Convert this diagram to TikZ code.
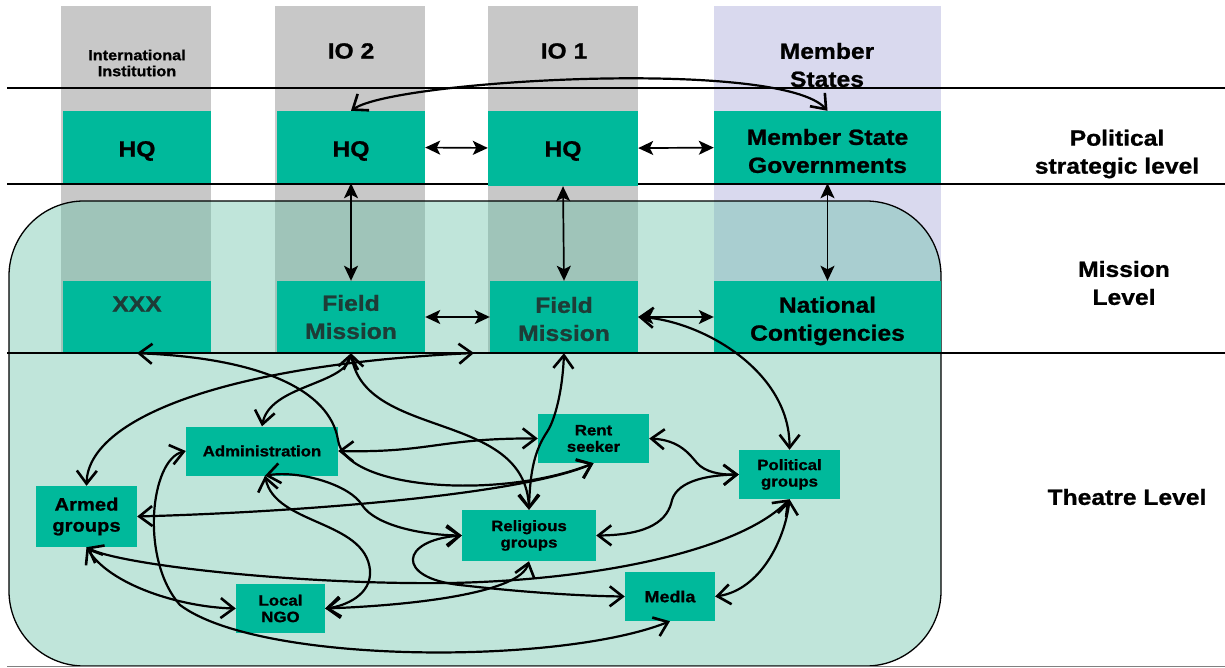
\documentclass[tikz,border=0pt]{standalone}
\usepackage{fontspec}
\setmainfont{Liberation Sans}[FakeStretch=1.12, BoldFeatures={FakeBold=1}]
\usetikzlibrary{arrows.meta}
\definecolor{grn}{RGB}{0,185,155}
\definecolor{colgray}{RGB}{200,200,200}
\definecolor{lav}{RGB}{217,217,238}
\definecolor{mint}{RGB}{98,190,163}
\definecolor{dtxt}{RGB}{30,60,55}
\tikzset{
  bb/.tip={Straight Barb[length=13pt,width=20pt,line width=2.6pt]},
  ff/.tip={Stealth[length=15pt,width=14pt,inset=3.5pt]},
}
\begin{document}
\begin{tikzpicture}[x=1pt,y=-1pt,
  box/.style={fill=grn, inner sep=0pt},
  btxt/.style={align=center, inner sep=0pt, font=\bfseries\fontsize{22}{28}\selectfont},
  sbox/.style={fill=grn, inner sep=0pt, align=center, font=\bfseries\fontsize{15}{16.5}\selectfont},
  lvl/.style={align=center, inner sep=0pt, font=\bfseries\fontsize{22}{28}\selectfont},
  link/.style={line width=2.2pt, bb-bb},
  flink/.style={line width=1.7pt, ff-ff},
  hline/.style={line width=2pt},
]
\useasboundingbox (0,0) rectangle (1225,668);
% columns
\fill[colgray] (61,6) rectangle (211,353);
\fill[colgray] (275,6) rectangle (425,353);
\fill[colgray] (488,6) rectangle (638,353);
\fill[lav] (714,6) rectangle (941,353);
% mission/theatre area
\draw[line width=1.3pt, fill=mint, fill opacity=0.4, rounded corners=75pt] (9,201) rectangle (941,666);
\draw[line width=1.5pt, gray] (7,666.5) -- (1225,666.5);
% level lines
\draw[hline] (7,88) -- (1225,88);
\draw[hline] (7,184) -- (1225,184);
% headers
\node[align=center, inner sep=0pt, font=\bfseries\fontsize{14.5}{16}\selectfont] (t1) at (137,63) {International\\Institution};
\node[lvl] (t2) at (351,51) {IO 2};
\node[lvl] (t3) at (564,51) {IO 1};
\node[lvl] (t4) at (827,65) {Member\\States};
\node[lvl] (l1) at (1117,154) {Political\\strategic level};
\node[lvl] (l2) at (1124,283) {Mission\\Level};
\node[lvl] (l3) at (1127,497) {Theatre Level};
% boxes
\node[box, minimum width=148pt, minimum height=72pt, label={[btxt, yshift=-4pt]center:HQ}] (hq1) at (137,147) {};
\node[box, minimum width=148pt, minimum height=72pt, label={[btxt, yshift=-4pt]center:HQ}] (hq2) at (351,147) {};
\node[box, minimum width=150pt, minimum height=75pt, label={[btxt, yshift=-2.5pt]center:HQ}] (hq3) at (563,148.5) {};
\node[box, minimum width=227pt, minimum height=72pt, label={[btxt, yshift=-4pt]center:Member State\\Governments}] (msg) at (827.5,147) {};
\node[box, minimum width=148pt, minimum height=72pt, label={[btxt, text=dtxt, yshift=13pt]center:XXX}] (xxx) at (137,317) {};
\node[box, minimum width=148pt, minimum height=72pt, label={[btxt, text=dtxt, yshift=0pt]center:Field\\Mission}] (fm2) at (351,317) {};
\node[box, minimum width=148pt, minimum height=72pt, label={[btxt, text=dtxt, yshift=-2pt]center:Field\\Mission}] (fm1) at (564,317) {};
\node[box, minimum width=227pt, minimum height=72pt, label={[btxt, yshift=-4pt]center:National\\Contigencies}] (nc) at (827.5,317) {};
\draw[hline] (7,353) -- (1225,353);
% theatre nodes
\node[sbox, minimum width=152pt, minimum height=49pt] (adm) at (262,451) {Administration};
\node[sbox, minimum width=111pt, minimum height=49pt] (rs) at (593.5,438.5) {Rent\\seeker};
\node[sbox, minimum width=101pt, minimum height=49pt] (pg) at (789.5,474.5) {Political\\groups};
\node[sbox, minimum width=134pt, minimum height=51pt] (rg) at (529,535.5) {Religious\\groups};
\node[sbox, minimum width=101pt, minimum height=61pt, font=\bfseries\fontsize{18}{21}\selectfont] (ag) at (86.5,516.5) {Armed\\groups};
\node[sbox, minimum width=89pt, minimum height=49pt] (lng) at (280.5,608.5) {Local\\NGO};
\node[sbox, minimum width=90pt, minimum height=49pt, font=\bfseries\fontsize{16}{18}\selectfont] (med) at (670,596.5) {Medla};
\coordinate (a2) at (474,353);
% top-level connectors
\draw[flink] (hq2) -- (hq3);
\draw[flink] (hq3) -- (msg);
\draw[flink] (hq2) -- (fm2);
\draw[flink] (hq3.south) -- (fm1.north);
\draw[flink] (msg) -- (nc);
\draw[flink] (fm2) -- (fm1);
\draw[flink] (fm1) -- (nc);
\draw[link] (hq2.north) .. controls (395,80) and (780,58) .. (msg.north);
% mission to theatre
\draw[link] (fm1.east) .. controls (700,320) and (790,370) .. (pg.north);
\draw[link] (xxx.south) .. controls (260,358) and (330,390) .. (338,440) .. controls (345,490) and (500,500) .. (rs.south);
\draw[link] (ag.east) .. controls (300,512) and (520,495) .. (rs.south);
\draw[link] (adm.east) .. controls (430,453) and (440,438) .. (rs.west);
\draw[link] (fm2.south) .. controls (345,385) and (270,385) .. (adm.north);
\draw[link] (ag.north) .. controls (88,420) and (220,365) .. (a2);
\draw[link] (fm2.south) .. controls (365,440) and (525,410) .. (rg.north);
\draw[link] (fm1.south) .. controls (562,400) and (552,425) .. (547,432) .. controls (535,450) and (530,470) .. (rg.north);
% theatre links
\draw[link] ([xshift=3pt]adm.south) .. controls (275,525) and (365,520) .. (370,570) .. controls (372,595) and (345,606) .. (lng.east);
\draw[link] ([xshift=3pt]adm.south) .. controls (300,470) and (350,485) .. (362,505) .. controls (375,525) and (420,535) .. (rg.west);
\draw[link] (adm.west) .. controls (150,460) and (140,560) .. (180,605) .. controls (260,665) and (560,665) .. (med.south);
\draw[link] (ag.south) .. controls (110,585) and (180,607) .. (lng.west);
\draw[link] (ag.south) .. controls (120,565) and (300,585) .. (450,583) .. controls (600,580) and (740,550) .. (pg.south);
\draw[link] (lng.east) .. controls (420,605) and (520,592) .. (rg.south);
\draw[link] (rg.west) .. controls (400,540) and (395,578) .. (460,585) .. controls (520,592) and (580,596) .. (med.west);
\draw[link] (rs.east) .. controls (680,440) and (690,455) .. (697,463) .. controls (705,472) and (720,475) .. (pg.west);
\draw[link] (rg.east) .. controls (650,535) and (668,520) .. (672,500) .. controls (678,480) and (710,475) .. (pg.west);
\draw[link] (pg.south) .. controls (785,540) and (760,590) .. (med.east);
\end{tikzpicture}
\end{document}
